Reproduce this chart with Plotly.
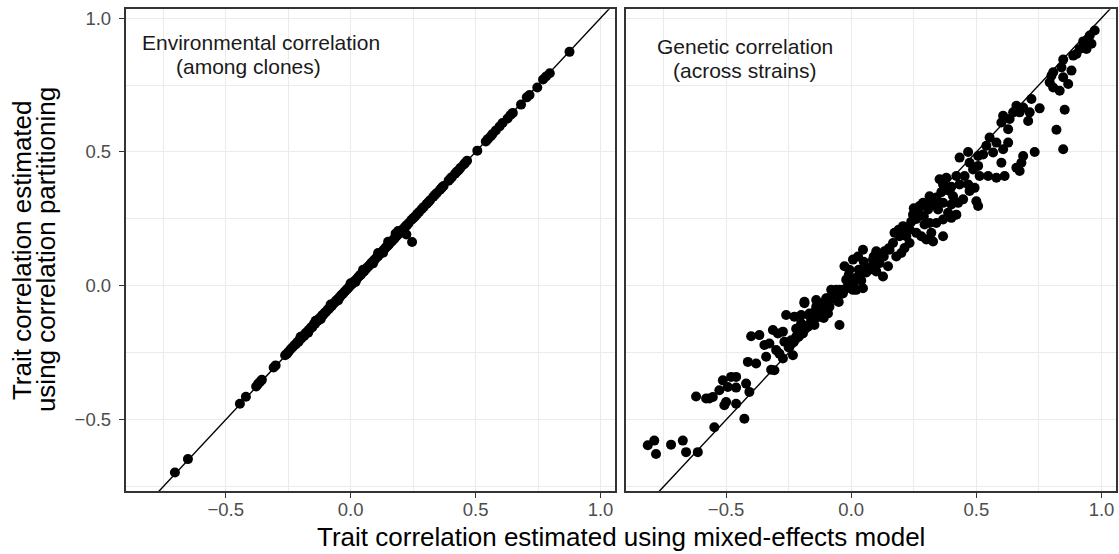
import plotly.graph_objects as go

# Environmental correlation (among clones): correlation-partitioning vs mixed-effects estimates
env_x = [-0.703, -0.651, -0.443, -0.419, -0.378, -0.370, -0.362, -0.355, -0.308, -0.300,
         -0.262, -0.255, -0.248, -0.240, -0.232,
         -0.224, -0.219, -0.213, -0.208, -0.202, -0.197, -0.191, -0.186, -0.180, -0.175,
         -0.169, -0.164, -0.158, -0.153, -0.147, -0.142, -0.136, -0.131, -0.125, -0.120,
         -0.114, -0.109, -0.103, -0.098, -0.092, -0.087, -0.081, -0.076, -0.070, -0.065,
         -0.059, -0.054, -0.048, -0.043, -0.037, -0.032, -0.026, -0.021, -0.015, -0.010,
         -0.004, 0.001, 0.007, 0.012, 0.018, 0.023, 0.029, 0.034, 0.040, 0.045,
         0.051, 0.056, 0.062, 0.067, 0.073, 0.078, 0.084, 0.089, 0.095, 0.100,
         0.106, 0.111, 0.117, 0.122, 0.128, 0.133, 0.139, 0.144, 0.150, 0.155,
         0.161, 0.166, 0.172, 0.177, 0.183, 0.188, 0.194, 0.199, 0.205, 0.210,
         0.216, 0.221, 0.227, 0.232,
         -0.170, -0.120, -0.050, 0.020, 0.090, 0.130, -0.200, -0.140, -0.080, 0.000,
         0.050, 0.110, 0.150, 0.180, 0.190, 0.246, 0.223,
         0.243, 0.251, 0.258, 0.266, 0.274, 0.284, 0.292, 0.304, 0.311, 0.318,
         0.331, 0.338, 0.345, 0.358, 0.365, 0.372, 0.392, 0.399, 0.405, 0.418,
         0.425, 0.432, 0.440, 0.453, 0.458, 0.466, 0.507, 0.541, 0.549, 0.561,
         0.568, 0.581, 0.596, 0.608, 0.628, 0.640, 0.649, 0.682, 0.705, 0.716,
         0.747, 0.770, 0.782, 0.797, 0.876]
env_y = [-0.697, -0.647, -0.440, -0.414, -0.376, -0.366, -0.358, -0.351, -0.305, -0.297,
         -0.259, -0.254, -0.246, -0.237, -0.229,
         -0.221, -0.218, -0.210, -0.209, -0.198, -0.196, -0.187, -0.187, -0.176, -0.176,
         -0.166, -0.163, -0.155, -0.154, -0.143, -0.141, -0.133, -0.130, -0.121, -0.121,
         -0.110, -0.108, -0.100, -0.097, -0.089, -0.086, -0.078, -0.076, -0.067, -0.063,
         -0.057, -0.052, -0.046, -0.042, -0.034, -0.031, -0.024, -0.019, -0.013, -0.009,
         -0.002, 0.003, 0.008, 0.014, 0.020, 0.024, 0.031, 0.036, 0.041, 0.047,
         0.053, 0.057, 0.064, 0.069, 0.074, 0.080, 0.086, 0.091, 0.096, 0.102,
         0.108, 0.112, 0.119, 0.124, 0.129, 0.135, 0.141, 0.146, 0.151, 0.157,
         0.163, 0.168, 0.173, 0.179, 0.185, 0.190, 0.196, 0.201, 0.206, 0.212,
         0.218, 0.223, 0.228, 0.234,
         -0.175, -0.125, -0.055, 0.015, 0.084, 0.124, -0.190, -0.130, -0.070, 0.010,
         0.060, 0.123, 0.165, 0.195, 0.205, 0.164, 0.192,
         0.246, 0.253, 0.259, 0.268, 0.276, 0.286, 0.294, 0.306, 0.312, 0.320,
         0.333, 0.340, 0.347, 0.359, 0.367, 0.373, 0.393, 0.400, 0.406, 0.419,
         0.426, 0.432, 0.441, 0.453, 0.459, 0.467, 0.505, 0.539, 0.548, 0.559,
         0.567, 0.580, 0.595, 0.608, 0.625, 0.638, 0.646, 0.677, 0.704, 0.713,
         0.741, 0.771, 0.782, 0.794, 0.874]

# Genetic correlation (across strains)
gen_x = [0.973, 0.953, 0.960, 0.927, 0.940, 0.913, 0.900, 0.887, 0.847, 0.880,
         0.840, 0.807, 0.800, 0.847, 0.867, 0.793, 0.807, 0.833, 0.720, 0.753,
         0.853, 0.820, 0.847, 0.733,
         0.660, 0.687, 0.647, 0.673, 0.607, 0.633, 0.600, 0.627, 0.707, 0.713,
         0.553, 0.580, 0.627, 0.607, 0.540, 0.567,
         0.467, 0.433, 0.507, 0.527,
         0.600, 0.687, 0.680, 0.660, 0.673,
         0.473, 0.507, 0.487, 0.453, 0.420, 0.380, 0.353, 0.367,
         0.547, 0.580, 0.613, 0.513,
         0.433, 0.467, 0.493, 0.393, 0.407, 0.367, 0.400, 0.427, 0.447, 0.473,
         0.500, 0.507,
         0.313, 0.287, 0.333, 0.347, 0.307, 0.273, 0.247,
         0.387, 0.420, 0.367, 0.340, 0.313, 0.293, 0.400,
         0.207, 0.233, 0.173, 0.193, 0.220, 0.260, 0.280, 0.300, 0.320, 0.327,
         0.233, 0.213, 0.200, 0.167, 0.153, 0.180, 0.133,
         0.367,
         0.100, 0.120, 0.087, 0.113, 0.147, 0.127, 0.100, 0.073, 0.053, 0.047,
         -0.027, 0.047, 0.027, 0.007, 0.020, -0.007, -0.020, -0.033, 0.007,
         -0.060, -0.080, -0.187, -0.140, -0.100,
         -0.047, -0.073, -0.033, 0.020, 0.047, -0.013,
         -0.093, -0.113, -0.087, -0.140, -0.167, -0.127, -0.093, -0.153, -0.187, -0.200,
         -0.227, -0.260, -0.173, -0.193, -0.220, -0.240, -0.267, -0.293, -0.313, -0.273,
         -0.367, -0.400, -0.347, -0.327, -0.300, -0.287, -0.273, -0.233, -0.247, -0.340,
         -0.380, -0.413, -0.307, -0.320, -0.047, -0.147, -0.200,
         -0.460, -0.480, -0.513, -0.493, -0.527, -0.553, -0.580, -0.620, -0.420, -0.460,
         -0.407, -0.500, -0.460, -0.507, -0.547, -0.427, -0.613, -0.660, -0.673, -0.720,
         -0.813, -0.787, -0.780, -0.567,
         -0.060, -0.040, -0.020, 0.000, 0.020, 0.040, 0.060, 0.080, 0.030, 0.050,
         0.090, 0.110, 0.130, 0.150, -0.010, 0.010, -0.050, -0.080, -0.100, -0.120,
         -0.110, -0.150, -0.160, -0.180, -0.200, -0.210, -0.230, -0.250, -0.220, -0.170,
         0.240, 0.260, 0.190, 0.210, 0.230, 0.270, 0.290, 0.250, 0.280, 0.320,
         0.340, 0.360, 0.380, 0.400]
gen_y = [0.954, 0.935, 0.904, 0.913, 0.885, 0.885, 0.866, 0.860, 0.845, 0.804,
         0.816, 0.798, 0.785, 0.779, 0.754, 0.760, 0.741, 0.729, 0.698, 0.663,
         0.658, 0.583, 0.510, 0.500,
         0.673, 0.666, 0.648, 0.648, 0.635, 0.623, 0.610, 0.585, 0.616, 0.648,
         0.554, 0.535, 0.535, 0.510, 0.523, 0.498,
         0.500, 0.479, 0.485, 0.491,
         0.460, 0.485, 0.460, 0.441, 0.429,
         0.460, 0.448, 0.435, 0.410, 0.410, 0.404, 0.398, 0.379,
         0.410, 0.404, 0.410, 0.410,
         0.379, 0.379, 0.366, 0.354, 0.335, 0.310, 0.304, 0.310, 0.323, 0.354,
         0.316, 0.298,
         0.335, 0.310, 0.304, 0.285, 0.285, 0.298, 0.266,
         0.273, 0.266, 0.248, 0.235, 0.235, 0.229, 0.254,
         0.223, 0.210, 0.198, 0.185, 0.185, 0.198, 0.185, 0.173, 0.198, 0.166,
         0.160, 0.141, 0.123, 0.160, 0.135, 0.110, 0.129,
         0.185,
         0.129, 0.110, 0.098, 0.085, 0.073, 0.035, 0.054, 0.060, 0.073, 0.048,
         0.073, 0.135, 0.110, 0.098, 0.023, 0.060, 0.023, -0.015, -0.015,
         -0.015, -0.015, -0.059, -0.053, -0.046,
         -0.015, -0.021, -0.028, -0.015, -0.009, -0.003,
         -0.046, -0.065, -0.078, -0.078, -0.103, -0.115, -0.103, -0.128, -0.065, -0.109,
         -0.115, -0.109, -0.153, -0.178, -0.190, -0.203, -0.209, -0.178, -0.165, -0.171,
         -0.184, -0.188, -0.221, -0.215, -0.240, -0.253, -0.271, -0.259, -0.228, -0.265,
         -0.290, -0.284, -0.315, -0.313, -0.146, -0.146, -0.140,
         -0.340, -0.340, -0.353, -0.378, -0.390, -0.415, -0.421, -0.413, -0.365, -0.380,
         -0.396, -0.434, -0.440, -0.446, -0.528, -0.496, -0.621, -0.621, -0.578, -0.593,
         -0.595, -0.578, -0.628, -0.421,
         -0.050, -0.030, -0.010, 0.010, 0.030, 0.020, 0.050, 0.070, 0.060, 0.090,
         0.110, 0.100, 0.110, 0.140, 0.040, 0.000, -0.060, -0.050, -0.080, -0.090,
         -0.120, -0.100, -0.130, -0.150, -0.170, -0.190, -0.210, -0.230, -0.160, -0.110,
         0.240, 0.250, 0.210, 0.200, 0.220, 0.270, 0.260, 0.290, 0.300, 0.310,
         0.330, 0.350, 0.360, 0.370]

# reference line y = x, spanning past both axis ranges (clipped by the panel)
ref_line = [-1.0, 1.2]

x_range = [-0.90, 1.058]
y_range = [-0.767, 1.033]
tick_vals = [-0.5, 0.0, 0.5, 1.0]
tick_text = ["\u22120.5", "0.0", "0.5", "1.0"]
minor_vals = [-0.75, -0.25, 0.25, 0.75]

W, H = 1119, 554
FONT = "Liberation Sans, Arial, Helvetica, sans-serif"
GRID = "#EBEBEB"
BORDER = "#333333"
TICK_FONT = dict(family=FONT, size=18.5, color="#4D4D4D")

fig = go.Figure()

panels = [(env_x, env_y, "x", "y"), (gen_x, gen_y, "x2", "y2")]
for xs, ys, xa, ya in panels:
    fig.add_trace(go.Scatter(x=ref_line, y=ref_line, mode="lines",
                             line=dict(color="black", width=1.4),
                             xaxis=xa, yaxis=ya, hoverinfo="skip", showlegend=False))
    fig.add_trace(go.Scatter(x=xs, y=ys, mode="markers",
                             marker=dict(color="black", size=10, line=dict(width=0)),
                             xaxis=xa, yaxis=ya, showlegend=False, cliponaxis=False))


def px_x(p):
    return p / W


def px_y(p):
    return 1 - p / H


grid_style = dict(showgrid=True, gridcolor=GRID, gridwidth=1.3,
                  minor=dict(tickvals=minor_vals, showgrid=True,
                             gridcolor=GRID, gridwidth=0.7),
                  zeroline=False, showline=True, linecolor=BORDER, linewidth=1.7,
                  mirror=True)
common_x = dict(grid_style, range=x_range, tickvals=tick_vals, ticktext=tick_text,
                ticks="outside", ticklen=5, tickwidth=1.2, tickcolor=BORDER,
                tickfont=TICK_FONT, ticklabelstandoff=-4)
common_y = dict(grid_style, range=y_range, tickvals=tick_vals, ticktext=tick_text,
                domain=[px_y(491), px_y(7.3)])

fig.update_layout(
    width=W, height=H,
    margin=dict(l=0, r=0, t=0, b=0),
    paper_bgcolor="white", plot_bgcolor="white",
    font=dict(family=FONT),
    xaxis=dict(common_x, domain=[px_x(125.7), px_x(615)], anchor="y"),
    xaxis2=dict(common_x, domain=[px_x(626), px_x(1116)], anchor="y2"),
    yaxis=dict(common_y, anchor="x", ticks="outside", ticklen=5, tickwidth=1.2,
               tickcolor=BORDER, tickfont=TICK_FONT, ticklabelstandoff=4),
    yaxis2=dict(common_y, anchor="x2", matches="y", showticklabels=False, ticks=""),
)

ann = []
# panel labels
ann.append(dict(text="Environmental correlation", x=px_x(260.5), y=px_y(40.5),
                font=dict(size=21, color="#1A1A1A")))
ann.append(dict(text="(among clones)", x=px_x(248.7), y=px_y(64.5),
                font=dict(size=21, color="#1A1A1A")))
ann.append(dict(text="Genetic correlation", x=px_x(744.8), y=px_y(44.5),
                font=dict(size=21, color="#1A1A1A")))
ann.append(dict(text="(across strains)", x=px_x(744.8), y=px_y(69),
                font=dict(size=21, color="#1A1A1A")))
# axis titles
ann.append(dict(text="Trait correlation estimated using mixed-effects model",
                x=px_x(620.5), y=px_y(537), font=dict(size=26, color="black")))
ann.append(dict(text="Trait correlation estimated", x=px_x(22), y=px_y(249),
                textangle=-90, font=dict(size=26, color="black")))
ann.append(dict(text="using correlation partitioning", x=px_x(46), y=px_y(249),
                textangle=-90, font=dict(size=26, color="black")))

for a in ann:
    a.update(xref="paper", yref="paper", xanchor="center", yanchor="middle",
             showarrow=False)
    a["font"]["family"] = FONT
fig.update_layout(annotations=ann)

fig.write_html("out.html")
